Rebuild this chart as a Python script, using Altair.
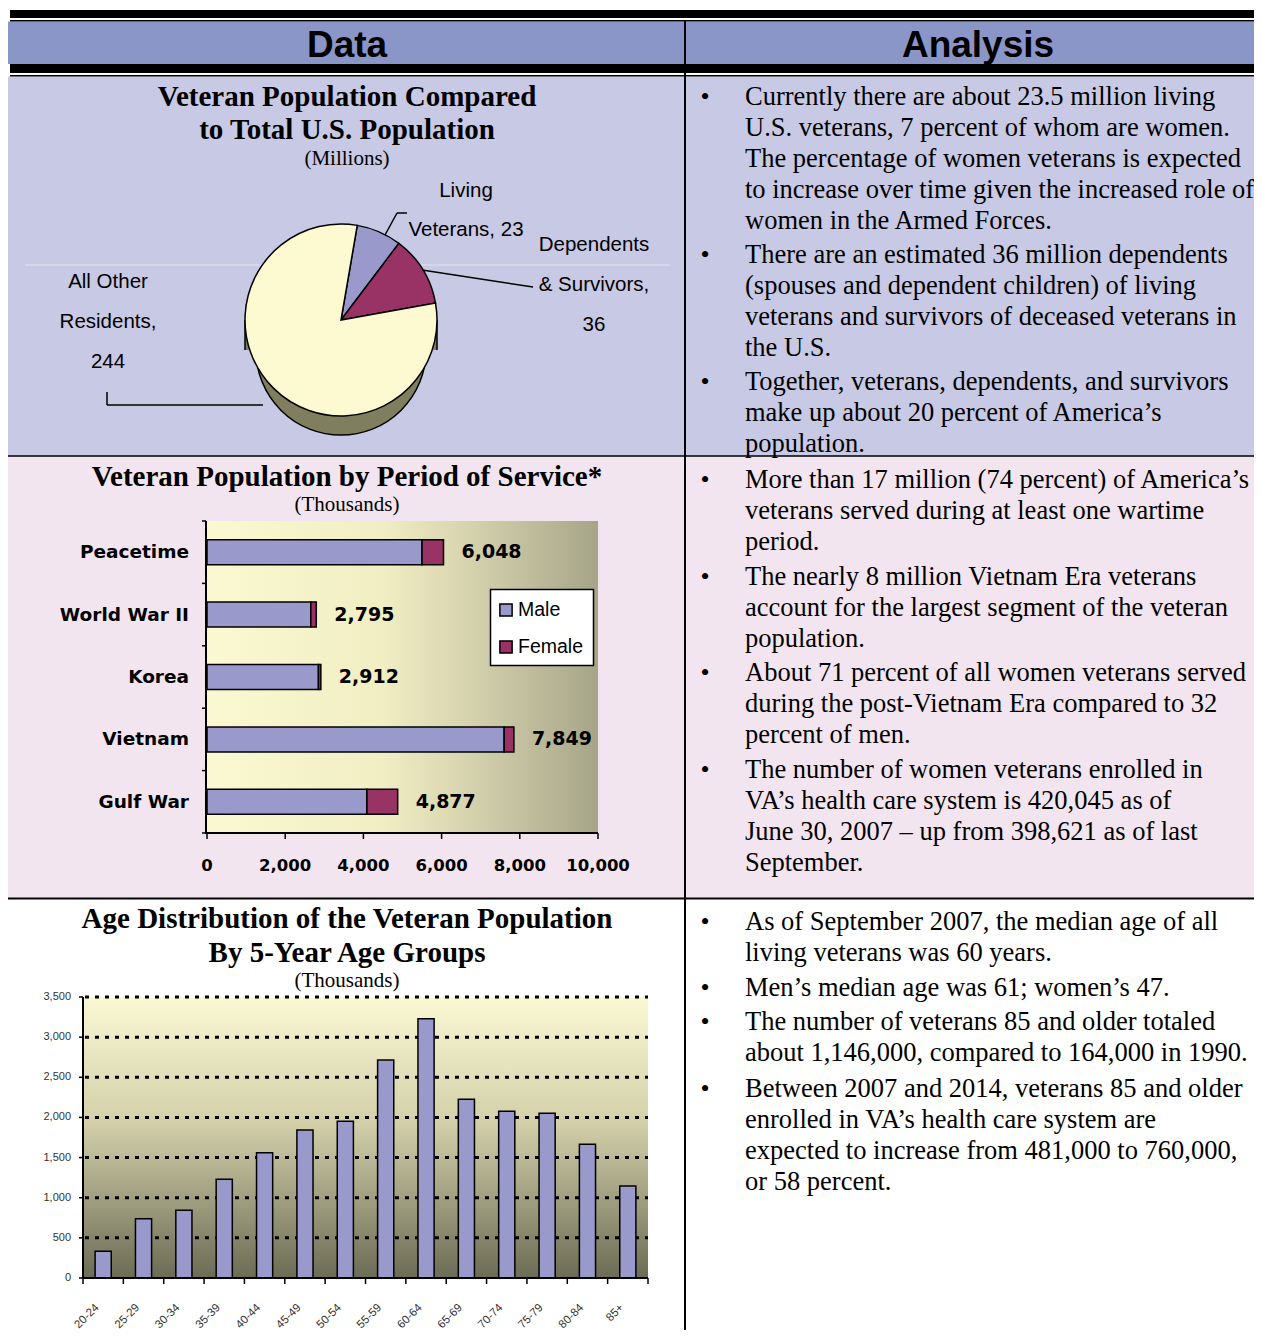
import math
import altair as alt
import pandas as pd

# ---------------- data ----------------
pie_labels = ["Living Veterans", "Dependents & Survivors", "All Other Residents"]
pie_values = [23, 36, 244]

periods = ["Peacetime", "World War II", "Korea", "Vietnam", "Gulf War"]
period_male = [5500, 2655, 2850, 7600, 4090]
period_female = [548, 140, 62, 249, 787]
period_total = [6048, 2795, 2912, 7849, 4877]
sexes = ["Male", "Female"]
bar_ticks = [0, 2000, 4000, 6000, 8000, 10000]

age_groups = ["20-24", "25-29", "30-34", "35-39", "40-44", "45-49", "50-54",
              "55-59", "60-64", "65-69", "70-74", "75-79", "80-84", "85+"]
age_values = [332, 739, 843, 1229, 1561, 1843, 1951, 2715, 3230, 2225, 2076, 2051, 1665, 1146]
age_ticks = [0, 500, 1000, 1500, 2000, 2500, 3000, 3500]

analysis_row1 = [
    ["Currently there are about 23.5 million living", "U.S. veterans, 7 percent of whom are women.",
     "The percentage of women veterans is expected", "to increase over time given the increased role of",
     "women in the Armed Forces."],
    ["There are an estimated 36 million dependents", "(spouses and dependent children) of living",
     "veterans and survivors of deceased veterans in", "the U.S."],
    ["Together, veterans, dependents, and survivors", "make up about 20 percent of America\u2019s",
     "population."],
]
analysis_row2 = [
    ["More than 17 million (74 percent) of America\u2019s", "veterans served during at least one wartime",
     "period."],
    ["The nearly 8 million Vietnam Era veterans", "account for the largest segment of the veteran",
     "population."],
    ["About 71 percent of all women veterans served", "during the post-Vietnam Era compared to 32",
     "percent of men."],
    ["The number of women veterans enrolled in", "VA\u2019s health care system is 420,045 as of",
     "June 30, 2007 \u2013 up from 398,621 as of last", "September."],
]
analysis_row3 = [
    ["As of September 2007, the median age of all", "living veterans was 60 years."],
    ["Men\u2019s median age was 61; women\u2019s 47."],
    ["The number of veterans 85 and older totaled", "about 1,146,000, compared to 164,000 in 1990."],
    ["Between 2007 and 2014, veterans 85 and older", "enrolled in VA\u2019s health care system are",
     "expected to increase from 481,000 to 760,000,", "or 58 percent."],
]

# ---------------- layout helpers ----------------
OX, OY = 8, 8
W, H = 1246, 1322
RIGHT = OX + W
ONE = pd.DataFrame({"k": [0]})

SERIF = "Liberation Serif, Times New Roman, serif"
SANS = "Liberation Sans, Arial, sans-serif"
VERD = "DejaVu Sans, Verdana, sans-serif"

HEADER = "#8A96C8"
LAV = "#C8C9E4"
PINK = "#F3E5EF"
MALE_C = "#9999CC"
FEM_C = "#993366"

layers = []


def add(c):
    layers.append(c)


def box(x1, y1, x2, y2, **kw):
    return alt.Chart(ONE).mark_rect(**kw).encode(
        x=alt.value(x1 - OX), x2=alt.value(x2 - OX),
        y=alt.value(y1 - OY), y2=alt.value(y2 - OY))


def seg(x1, y1, x2, y2, color="black", width=1.5):
    return alt.Chart(ONE).mark_rule(color=color, strokeWidth=width).encode(
        x=alt.value(x1 - OX), x2=alt.value(x2 - OX),
        y=alt.value(y1 - OY), y2=alt.value(y2 - OY))


def label(lines, x, y, size, font, weight="normal", align="left", lh=31, color="black"):
    return alt.Chart(ONE).mark_text(
        text=lines, font=font, fontSize=size, fontWeight=weight, align=align,
        baseline="alphabetic", lineHeight=lh, color=color).encode(
        x=alt.value(x - OX), y=alt.value(y - OY))


# ---------------- page frame ----------------
add(box(8, 76.5, RIGHT, 456, color=LAV))
add(box(8, 456, RIGHT, 898, color=PINK))
add(box(8, 21.5, RIGHT, 64, color=HEADER))
add(box(10, 10, RIGHT, 18, color="black"))
add(box(10, 20, RIGHT, 21.5, color="black"))
add(box(10, 64, RIGHT, 73, color="black"))
add(box(10, 75, RIGHT, 76.5, color="black"))
add(seg(8, 456, RIGHT, 456, width=1.5))
add(seg(8, 898.5, RIGHT, 898.5, width=2))
add(seg(685, 20, 685, OY + H, width=2))
add(seg(25, 265, 670, 265, color="#E2E3F1", width=1))

add(label(["Data"], 347, 57, 37, SANS, "bold", "center"))
add(label(["Analysis"], 978, 57, 37, SANS, "bold", "center"))


# ---------------- analysis text ----------------
def bullets(blocks, first_centers):
    for lines, cy in zip(blocks, first_centers):
        add(label(["\u2022"], 705, cy + 9, 26, SERIF, align="center"))
        add(label(lines, 745, cy + 9, 26.5, SERIF, lh=31))


bullets(analysis_row1, [96, 254, 381])
bullets(analysis_row2, [479, 576, 672, 769])
bullets(analysis_row3, [921, 987, 1021, 1088])

# ---------------- pie chart ----------------
add(label(["Veteran Population Compared", "to Total U.S. Population"], 347, 106, 29, SERIF, "bold",
          "center", lh=33))
add(label(["(Millions)"], 347, 165, 21, SERIF, align="center"))

PCX, PCY, R, D = 341, 320, 96, 30
OLIVE = "#7F7F60"
add(alt.Chart(ONE).mark_circle(size=math.pi * R * R, color=OLIVE, opacity=1, stroke="black",
                               strokeWidth=1.5).encode(x=alt.value(PCX - OX), y=alt.value(PCY + D - OY)))
add(box(PCX - R, PCY, PCX + R, PCY + D, color=OLIVE))
add(seg(PCX - R, PCY, PCX - R, PCY + D))
add(seg(PCX + R, PCY, PCX + R, PCY + D))

pie_df = pd.DataFrame({"label": pie_labels, "value": pie_values, "o": list(range(len(pie_labels)))})
OFF = 0.17
add(alt.Chart(pie_df).mark_arc(radius=R, stroke="black", strokeWidth=1.5).encode(
    theta=alt.Theta("value:Q", stack=True, scale=alt.Scale(range=[OFF, OFF + 2 * math.pi])),
    order=alt.Order("o:Q"),
    color=alt.Color("label:N", scale=alt.Scale(domain=pie_labels, range=[MALE_C, FEM_C, "#FDF9D1"]),
                    legend=None),
    x=alt.value(PCX - OX), y=alt.value(PCY - OY)))

# leader lines
add(seg(385, 235, 397, 213))
add(seg(397, 213, 407, 213))
add(seg(422, 270, 533, 287))
add(seg(107, 392, 107, 405))
add(seg(107, 405, 263, 405))

add(label(["Living", "Veterans, 23"], 466, 197, 20.5, SANS, align="center", lh=39))
add(label(["Dependents", "& Survivors,", "36"], 594, 251, 20.5, SANS, align="center", lh=40))
add(label(["All Other", "Residents,", "244"], 108, 288, 20.5, SANS, align="center", lh=40))

# ---------------- bar chart by period ----------------
add(label(["Veteran Population by Period of Service*"], 347, 486, 29, SERIF, "bold", "center"))
add(label(["(Thousands)"], 347, 511, 21, SERIF, align="center"))

BX0, BX1, BY0, BY1 = 207, 598, 521, 833
X_BAR = alt.Scale(domain=[0, 10000], range=[BX0 - OX, BX1 - OX], nice=False, zero=False)
Y_BAR = alt.Scale(domain=periods, range=[BY0 - OY, BY1 - OY], paddingInner=0.6, paddingOuter=0.3)
Y_BND = alt.Scale(domain=[0, len(periods)], range=[BY0 - OY, BY1 - OY], nice=False, zero=False)

bar_grad = alt.Gradient(gradient="linear", x1=0, x2=1, y1=0, y2=0, stops=[
    alt.GradientStop(color="#FBF9D1", offset=0),
    alt.GradientStop(color="#F1EEC4", offset=0.45),
    alt.GradientStop(color="#D8D5B0", offset=0.65),
    alt.GradientStop(color="#A6A588", offset=1)])
add(box(BX0, BY0, BX1, BY1, fill=bar_grad))

rows = []
for i, p in enumerate(periods):
    rows.append({"period": p, "sex": "Male", "value": period_male[i], "so": 0})
    rows.append({"period": p, "sex": "Female", "value": period_female[i], "so": 1})
bar_df = pd.DataFrame(rows)

add(alt.Chart(bar_df).mark_bar(stroke="black", strokeWidth=1.5).encode(
    x=alt.X("value:Q", stack="zero", scale=X_BAR, axis=None),
    y=alt.Y("period:N", scale=Y_BAR, axis=None),
    color=alt.Color("sex:N", scale=alt.Scale(domain=sexes, range=[MALE_C, FEM_C]), legend=None),
    order=alt.Order("so:Q")))

tot_df = pd.DataFrame({"period": periods, "total": period_total})
add(alt.Chart(tot_df).mark_text(align="left", baseline="middle", dx=18, font=VERD, fontWeight="bold",
                                fontSize=19, color="black").encode(
    x=alt.X("total:Q", scale=X_BAR, axis=None),
    y=alt.Y("period:N", scale=Y_BAR, axis=None),
    text=alt.Text("total:Q", format=",")))

add(alt.Chart(tot_df).mark_text(align="right", baseline="middle", font=VERD, fontWeight="bold",
                                fontSize=18.5, color="black").encode(
    x=alt.value(189 - OX),
    y=alt.Y("period:N", scale=Y_BAR, axis=None),
    text="period:N"))

# axes
add(seg(BX0 - 1, BY0, BX0 - 1, BY1 + 1, width=2))
add(seg(BX0 - 1, BY1, BX1, BY1, width=2))
bnd_df = pd.DataFrame({"b": list(range(len(periods) + 1))})
add(alt.Chart(bnd_df).mark_rule(color="black", strokeWidth=1.5).encode(
    y=alt.Y("b:Q", scale=Y_BND, axis=None),
    x=alt.value(BX0 - 5 - OX), x2=alt.value(BX0 - 1 - OX)))
bt_df = pd.DataFrame({"t": bar_ticks})
add(alt.Chart(bt_df).mark_rule(color="black", strokeWidth=1.5).encode(
    x=alt.X("t:Q", scale=X_BAR, axis=None),
    y=alt.value(BY1 - OY), y2=alt.value(BY1 + 6 - OY)))
add(alt.Chart(bt_df).mark_text(align="center", baseline="alphabetic", font=VERD, fontWeight="bold",
                               fontSize=16.5, color="black").encode(
    x=alt.X("t:Q", scale=X_BAR, axis=None),
    y=alt.value(871 - OY),
    text=alt.Text("t:Q", format=",")))

# legend
add(box(490.5, 589.5, 593.5, 665.5, color="white", stroke="black", strokeWidth=1.5))
Y_LEG = alt.Scale(domain=sexes, range=[610 - OY, 647 - OY], padding=0)
leg_df = pd.DataFrame({"sex": sexes})
add(alt.Chart(leg_df).mark_square(size=150, opacity=1, filled=True, stroke="black", strokeWidth=1.5).encode(
    x=alt.value(506 - OX),
    y=alt.Y("sex:N", scale=Y_LEG, axis=None),
    color=alt.Color("sex:N", scale=alt.Scale(domain=sexes, range=[MALE_C, FEM_C]), legend=None)))
add(alt.Chart(leg_df).mark_text(align="left", baseline="middle", font=SANS, fontSize=19.5,
                                color="black").encode(
    x=alt.value(518 - OX),
    y=alt.Y("sex:N", scale=Y_LEG, axis=None),
    text="sex:N"))

# ---------------- age distribution ----------------
add(label(["Age Distribution of the Veteran Population", "By 5-Year Age Groups"], 347, 928, 29, SERIF,
          "bold", "center", lh=34))
add(label(["(Thousands)"], 347, 987, 21, SERIF, align="center"))

AX0, AX1, AY0, AY1 = 83, 648, 997, 1278
X_AGE = alt.Scale(domain=age_groups, range=[AX0 - OX, AX1 - OX], paddingInner=0.6, paddingOuter=0.3)
Y_AGE = alt.Scale(domain=[0, 3500], range=[AY1 - OY, AY0 - OY], nice=False, zero=False)
X_ABND = alt.Scale(domain=[0, len(age_groups)], range=[AX0 - OX, AX1 - OX], nice=False, zero=False)

age_grad = alt.Gradient(gradient="linear", x1=0, x2=0, y1=0, y2=1, stops=[
    alt.GradientStop(color="#FBF9D4", offset=0),
    alt.GradientStop(color="#D2CFA9", offset=0.45),
    alt.GradientStop(color="#6C6C55", offset=1)])
add(box(AX0, AY0, AX1, AY1, fill=age_grad))

at_df = pd.DataFrame({"t": age_ticks})
add(alt.Chart(at_df[at_df.t > 0]).mark_rule(color="black", strokeWidth=3, strokeDash=[4, 6]).encode(
    y=alt.Y("t:Q", scale=Y_AGE, axis=None),
    x=alt.value(AX0 + 2 - OX), x2=alt.value(AX1 - OX)))

age_df = pd.DataFrame({"age": age_groups, "value": age_values})
add(alt.Chart(age_df).mark_bar(color=MALE_C, stroke="black", strokeWidth=1.5).encode(
    x=alt.X("age:N", scale=X_AGE, axis=None),
    y=alt.Y("value:Q", scale=Y_AGE, axis=None)))

add(seg(AX0, AY0, AX0, AY1, width=2))
add(seg(AX0, AY1, AX1, AY1, width=2))
add(alt.Chart(at_df).mark_rule(color="black", strokeWidth=1.5).encode(
    y=alt.Y("t:Q", scale=Y_AGE, axis=None),
    x=alt.value(AX0 - 4 - OX), x2=alt.value(AX0 - OX)))
add(alt.Chart(at_df).mark_text(align="right", baseline="middle", font=SANS, fontSize=11,
                               color="#333333").encode(
    y=alt.Y("t:Q", scale=Y_AGE, axis=None),
    x=alt.value(71 - OX),
    text=alt.Text("t:Q", format=",")))
abnd_df = pd.DataFrame({"b": list(range(len(age_groups) + 1))})
add(alt.Chart(abnd_df).mark_rule(color="black", strokeWidth=1.5).encode(
    x=alt.X("b:Q", scale=X_ABND, axis=None),
    y=alt.value(AY1 - OY), y2=alt.value(AY1 + 6 - OY)))
add(alt.Chart(age_df).mark_text(align="right", baseline="middle", angle=315, font=SANS, fontSize=11.5,
                                color="#333333", dx=-4, dy=-4).encode(
    x=alt.X("age:N", scale=X_AGE, axis=None, bandPosition=0.15),
    y=alt.value(1306 - OY),
    text="age:N"))

chart = alt.layer(*layers).resolve_scale(
    x="independent", y="independent", color="independent", theta="independent"
).properties(width=W, height=H, padding=0, autosize="none").configure_view(stroke=None)

chart.save("out.html", embed_options={"renderer": "svg", "actions": False})
